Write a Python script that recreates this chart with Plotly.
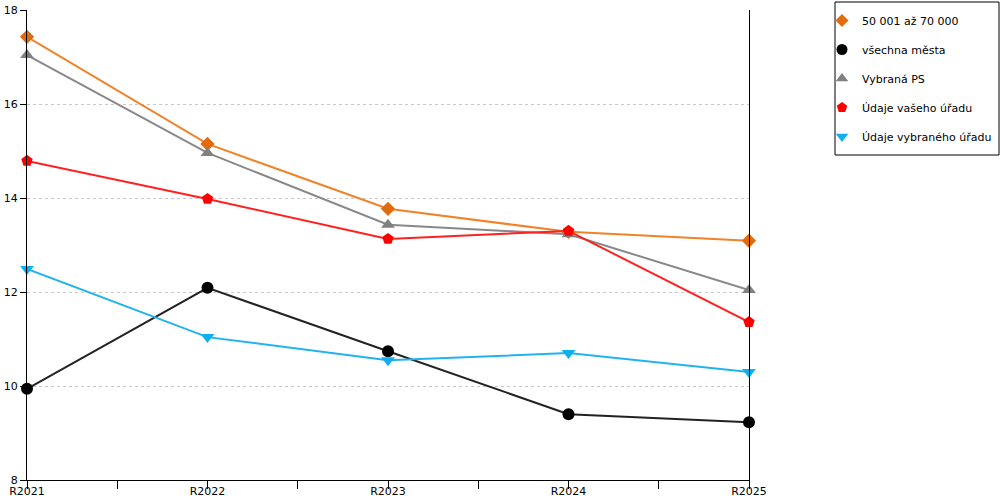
## line chart comparing offices across years

import plotly.graph_objects as go

years = ["R2021", "R2022", "R2023", "R2024", "R2025"]

vel_50_70 = [17.43, 15.15, 13.77, 13.28, 13.09]
vsechna_mesta = [9.94, 12.09, 10.74, 9.40, 9.23]
vybrana_ps = [17.04, 14.96, 13.43, 13.23, 12.04]
vas_urad = [14.79, 13.98, 13.13, 13.30, 11.36]
vybrany_urad = [12.49, 11.04, 10.55, 10.70, 10.30]

x_pos = list(range(len(years)))

series = [
    ("50 001 až 70 000", vel_50_70, "#F0832A", "#E06C0E", "diamond", 11),
    ("všechna města", vsechna_mesta, "#222222", "#000000", "circle", 12),
    ("Vybraná PS", vybrana_ps, "#888888", "#808080", "triangle-up", 12),
    ("Údaje vašeho úřadu", vas_urad, "#FF2020", "#FF0000", "pentagon", 12),
    ("Údaje vybraného úřadu", vybrany_urad, "#20B4EE", "#10AFF0", "triangle-down", 12),
]

W, H = 1000, 500
L, R, T, B = 27, 251, 10, 20
plot_w = W - L - R
plot_h = H - T - B

fig = go.Figure()

for name, values, line_col, marker_col, symbol, size in series:
    fig.add_trace(go.Scatter(
        x=x_pos,
        y=values,
        name=name,
        legendgroup=name,
        showlegend=False,
        mode="lines+markers",
        line=dict(color=line_col, width=2),
        marker=dict(color=marker_col, symbol=symbol, size=size),
        cliponaxis=False,
    ))
    # legend shows markers only, like the original
    fig.add_trace(go.Scatter(
        x=[None],
        y=[None],
        name=name,
        legendgroup=name,
        mode="markers",
        marker=dict(color=marker_col, symbol=symbol, size=size - 1),
    ))

fig.update_layout(
    width=W,
    height=H,
    margin=dict(l=L, r=R, t=T, b=B, autoexpand=False),
    paper_bgcolor="white",
    plot_bgcolor="white",
    font=dict(family="DejaVu Sans, Verdana, sans-serif", size=11, color="#000000"),
    showlegend=True,
    legend=dict(
        x=(997 - L) / plot_w,
        y=(H - B - 6) / plot_h,
        xanchor="right",
        yanchor="top",
        borderwidth=0,
        bgcolor="rgba(0,0,0,0)",
        font=dict(size=11),
        tracegroupgap=10,
        itemwidth=30,
    ),
)

# legend frame
fig.add_shape(
    type="rect",
    xref="paper",
    yref="paper",
    x0=(835 - L) / plot_w,
    x1=(999 - L) / plot_w,
    y0=(H - B - 155) / plot_h,
    y1=(H - B - 2) / plot_h,
    line=dict(color="#000000", width=1),
    fillcolor="rgba(0,0,0,0)",
)

fig.update_xaxes(
    range=[0, 4],
    tickvals=x_pos,
    ticktext=years,
    showgrid=False,
    zeroline=False,
    showline=True,
    linecolor="#000000",
    linewidth=1,
    ticks="outside",
    ticklen=8,
    tickcolor="#000000",
    ticklabelstandoff=-7,
    automargin=False,
    minor=dict(dtick=0.5, ticks="outside", ticklen=8, tickcolor="#000000", showgrid=False),
)

fig.update_yaxes(
    range=[8, 18],
    dtick=2,
    showgrid=True,
    gridcolor="#C8C8C8",
    griddash="3px,3px",
    gridwidth=1,
    zeroline=False,
    showline=True,
    mirror=True,
    linecolor="#000000",
    linewidth=1,
    ticks="outside",
    ticklen=6,
    tickcolor="#000000",
    automargin=False,
)

# the page body adds an 8px margin by default; drop it so the chart sits at 0,0
fig.write_html(
    "out.html",
    config={"displayModeBar": False},
    post_script="document.body.style.margin='0';",
)
